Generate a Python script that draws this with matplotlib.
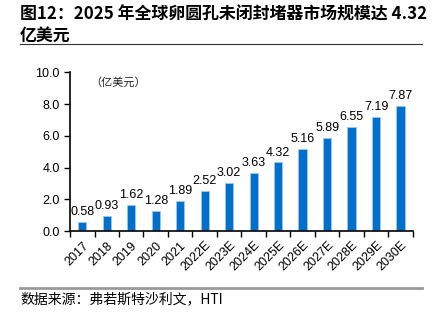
import numpy as np
import matplotlib.pyplot as plt

plt.rcParams['font.family'] = ['Liberation Sans', 'Noto Sans CJK SC', 'DejaVu Sans']

years = ['2017', '2018', '2019', '2020', '2021', '2022E', '2023E', '2024E',
         '2025E', '2026E', '2027E', '2028E', '2029E', '2030E']
values = [0.58, 0.93, 1.62, 1.28, 1.89, 2.52, 3.02, 3.63,
          4.32, 5.16, 5.89, 6.55, 7.19, 7.87]
yticks = [0.0, 2.0, 4.0, 6.0, 8.0, 10.0]

fig = plt.figure(figsize=(4.35, 3.21), dpi=100)

# title block
fig.text(0.046, 0.955, '图12：2025 年全球卵圆孔未闭封堵器市场规模达 4.32',
         fontsize=12.2, fontweight='bold', family=['Noto Sans CJK SC'], va='center')
fig.text(0.046, 0.888, '亿美元', fontsize=12.2, fontweight='bold',
         family=['Noto Sans CJK SC'], va='center')
fig.add_artist(plt.Line2D([0.046, 0.970], [0.862, 0.862], color='#333333', lw=0.8))

ax = fig.add_axes([0.161, 0.280, 0.788, 0.495])
x = np.arange(len(years))
ax.bar(x, values, width=0.34, color='#0070CC', edgecolor='#9CC8EE', linewidth=0.6)
for xi, v in zip(x, values):
    ax.text(xi, v + 0.25, f'{v:.2f}', ha='center', va='bottom', fontsize=9)

ax.set_xlim(-0.5, len(years) - 0.5)
ax.set_ylim(0, 10)
ax.set_yticks(yticks)
ax.set_yticklabels([f'{t:.1f}' for t in yticks], fontsize=9)
ax.set_xticks(x)
ax.set_xticklabels(years, rotation=45, ha='right', rotation_mode='anchor', fontsize=9)
ax.tick_params(axis='x', length=0, pad=6)
ax.set_xticks(np.arange(-0.5, len(years)), minor=True)
ax.tick_params(axis='x', which='minor', length=4, direction='out', width=1)
ax.tick_params(axis='y', length=4, direction='out', width=1)
for s in ['top', 'right']:
    ax.spines[s].set_visible(False)
for s in ['left', 'bottom']:
    ax.spines[s].set_linewidth(1.2)

ax.text(0.06, 0.97, '（亿美元）', transform=ax.transAxes, fontsize=8,
        family=['Noto Sans CJK SC'], va='top', ha='left', color='#222222')

# source block
fig.add_artist(plt.Line2D([0.046, 0.970], [0.103, 0.103], color='#999999', lw=2))
fig.text(0.046, 0.068, '数据来源：弗若斯特沙利文，HTI', fontsize=10,
         family=['Noto Sans CJK SC'], va='center')

fig.savefig('out.png', dpi=100)
